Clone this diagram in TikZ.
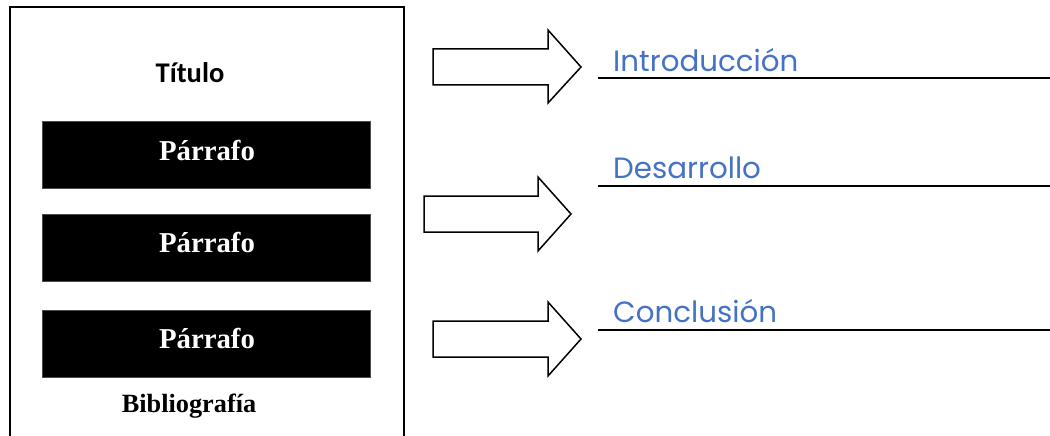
\documentclass[tikz,border=0pt]{standalone}
\usepackage{fontspec}
\newfontfamily\calfont{Carlito}
\newfontfamily\serfont{Liberation Serif}
\newfontfamily\labfont{Poppins}
\definecolor{labblue}{HTML}{4472C4}
\tikzset{
  frame/.style={line width=2pt, draw=black},
  parbox/.style={fill=black, draw=black!70, line width=0.6pt, minimum width=328pt, minimum height=67pt, inner sep=0pt},
  partext/.style={text=white, anchor=base, inner sep=0pt, font=\serfont\bfseries\fontsize{28.8}{30}\selectfont},
  bigarrow/.style={draw=black, line width=1.5pt, fill=white, line join=miter},
  labtext/.style={text=labblue, anchor=base west, inner sep=0pt, font=\labfont\fontsize{29.3}{32}\selectfont},
  uline/.style={line width=2pt, draw=black}
}
\begin{document}
\begin{tikzpicture}[x=1pt,y=-1pt]
\useasboundingbox (0,0) rectangle (1050,436);
% page frame (open at bottom)
\draw[frame] (10,436) -- (10,7) -- (404,7) -- (404,436);
\node[anchor=base, inner sep=0pt, font=\calfont\bfseries\fontsize{28.5}{30}\selectfont] (titulo) at (190,82) {Título};
\node[parbox] (p1) at (206,154.5) {};
\node[parbox] (p2) at (206,247.5) {};
\node[parbox] (p3) at (206,343.5) {};
\node[partext] (t1) at (207,160) {Párrafo};
\node[partext] (t2) at (207,252) {Párrafo};
\node[partext] (t3) at (207,348) {Párrafo};
\node[anchor=base, inner sep=0pt, font=\serfont\bfseries\fontsize{26.3}{28}\selectfont] (biblio) at (189,412) {Bibliografía};
% block arrows
\draw[bigarrow] (433,49) -- (548,49) -- (548,30) -- (581,67) -- (548,103) -- (548,85) -- (433,85) -- cycle;
\draw[bigarrow] (424,196) -- (538,196) -- (538,177) -- (571,214) -- (538,251) -- (538,232) -- (424,232) -- cycle;
\draw[bigarrow] (433,321) -- (548,321) -- (548,302) -- (581,339) -- (548,376) -- (548,357) -- (433,357) -- cycle;
% labels and underlines
\node[labtext] (intro) at (613,71) {Introducción};
\node[labtext] (desa) at (613,178) {Desarrollo};
\node[labtext] (conc) at (613,322) {Conclusión};
\coordinate (l1a) at (598,78); \coordinate (l1b) at (1050,78);
\coordinate (l2a) at (598,186); \coordinate (l2b) at (1050,186);
\coordinate (l3a) at (598,330); \coordinate (l3b) at (1050,330);
\draw[uline] (l1a) -- (l1b);
\draw[uline] (l2a) -- (l2b);
\draw[uline] (l3a) -- (l3b);
\end{tikzpicture}
\end{document}
